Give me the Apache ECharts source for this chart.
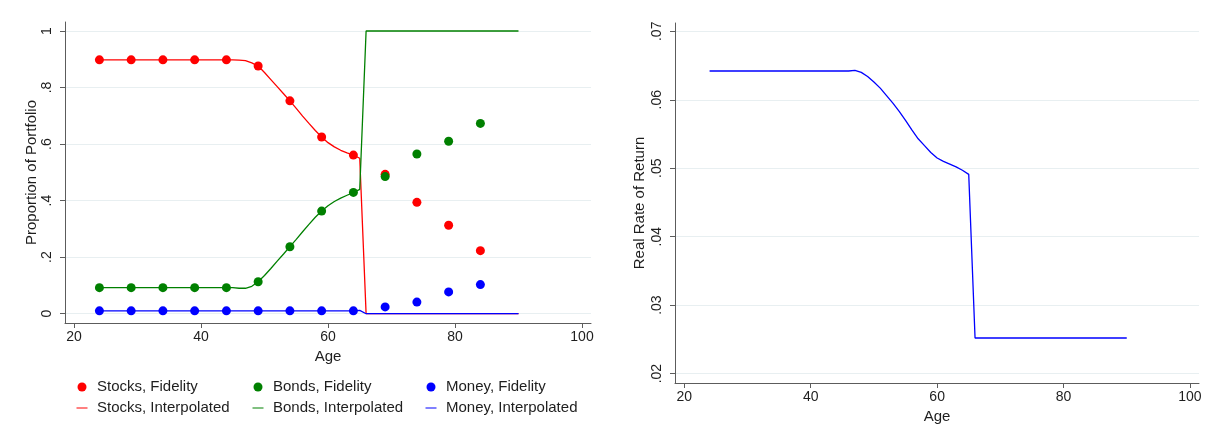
<!DOCTYPE html>
<html><head><meta charset="utf-8">
<script src="https://cdn.jsdelivr.net/npm/echarts@6/dist/echarts.min.js"></script>
<style>html,body{margin:0;padding:0;background:#fff}#c{width:1208px;height:440px}</style>
</head><body><div id="c"></div>
<script>
// ---------- data ----------
const fidelityAges = [24,29,34,39,44,49,54,59,64,69,74,79,84];
const stocksFidelity = [0.898,0.898,0.898,0.898,0.898,0.876,0.753,0.625,0.561,0.493,0.394,0.313,0.223];
const bondsFidelity  = [0.092,0.092,0.092,0.092,0.092,0.113,0.237,0.363,0.429,0.485,0.565,0.610,0.673];
const moneyFidelity  = [0.010,0.010,0.010,0.010,0.010,0.010,0.010,0.010,0.010,0.024,0.041,0.077,0.103];

const interpAges = [24,25,26,27,28,29,30,31,32,33,34,35,36,37,38,39,40,41,42,43,44,45,46,47,48,49,50,
  51,52,53,54,55,56,57,58,59,60,61,62,63,64,65,66,67,68,69,70,71,72,73,74,75,76,77,78,79,80,
  81,82,83,84,85,86,87,88,89,90];
const stocksInterp = [0.898,0.898,0.898,0.898,0.898,0.898,0.898,0.898,0.898,0.898,0.898,0.898,0.898,
  0.898,0.898,0.898,0.898,0.898,0.898,0.898,0.898,0.898,0.897,0.895,0.887,0.876,0.853,0.828,0.803,
  0.778,0.753,0.726,0.699,0.673,0.648,0.625,0.605,0.590,0.578,0.569,0.561,0.550,
  0,0,0,0,0,0,0,0,0,0,0,0,0,0,0,0,0,0,0,0,0,0,0,0,0];
const bondsInterp = [0.092,0.092,0.092,0.092,0.092,0.092,0.092,0.092,0.092,0.092,0.092,0.092,0.092,
  0.092,0.092,0.092,0.092,0.092,0.092,0.092,0.092,0.092,0.090,0.090,0.097,0.113,0.135,0.160,0.186,
  0.211,0.237,0.263,0.290,0.316,0.341,0.363,0.382,0.397,0.409,0.419,0.428,0.440,
  1,1,1,1,1,1,1,1,1,1,1,1,1,1,1,1,1,1,1,1,1,1,1,1,1];
const moneyInterp = [0.010,0.010,0.010,0.010,0.010,0.010,0.010,0.010,0.010,0.010,0.010,0.010,0.010,
  0.010,0.010,0.010,0.010,0.010,0.010,0.010,0.010,0.010,0.010,0.010,0.010,0.010,0.010,0.010,0.010,
  0.010,0.010,0.010,0.010,0.010,0.010,0.010,0.010,0.010,0.010,0.010,0.010,0.012,
  0,0,0,0,0,0,0,0,0,0,0,0,0,0,0,0,0,0,0,0,0,0,0,0,0];
const realReturn = [0.0642,0.0642,0.0642,0.0642,0.0642,0.0642,0.0642,0.0642,0.0642,0.0642,0.0642,
  0.0642,0.0642,0.0642,0.0642,0.0642,0.0642,0.0642,0.0642,0.0642,0.0642,0.0642,0.0642,0.0643,0.0640,
  0.0634,0.0626,0.0617,0.0606,0.0595,0.0583,0.0570,0.0556,0.0543,0.0533,0.0523,0.0515,0.0510,0.0506,
  0.0502,0.0497,0.0491,
  0.0252,0.0252,0.0252,0.0252,0.0252,0.0252,0.0252,0.0252,0.0252,0.0252,0.0252,0.0252,0.0252,
  0.0252,0.0252,0.0252,0.0252,0.0252,0.0252,0.0252,0.0252,0.0252,0.0252,0.0252,0.0252];

const xTicks = [20,40,60,80,100];
const yTicksLeft = [0,0.2,0.4,0.6,0.8,1];
const yTicksRight = [0.02,0.03,0.04,0.05,0.06,0.07];

// ---------- styling ----------
const FONT = '"Liberation Sans", Arial, Helvetica, sans-serif';
const AXIS = '#5c5c5c';
const GRIDC = '#e8eff1';
const TXT = '#1e1e1e';
const RED = '#ff0000', GREEN = '#008000', BLUE = '#0000ff';

const zip = (xs, ys) => xs.map((x, i) => [x, ys[i]]);
const stripZero = v => { const s = String(+v.toFixed(2)); return s.replace(/^0\./, '.'); };

function xAxis(gi, min, max) {
  return {
    type: 'value', gridIndex: gi, min, max,
    name: 'Age', nameLocation: 'middle', nameGap: 23,
    nameTextStyle: { fontSize: 15, color: TXT, fontFamily: FONT },
    axisLine: { show: true, onZero: false, lineStyle: { color: AXIS, width: 1 } },
    axisTick: { show: true, customValues: xTicks, length: 5, lineStyle: { color: AXIS, width: 1 } },
    axisLabel: { customValues: xTicks, fontSize: 14, color: TXT, fontFamily: FONT, margin: 7 },
    splitLine: { show: false }
  };
}
function yAxis(gi, min, max, ticks, name, gap) {
  return {
    type: 'value', gridIndex: gi, min, max,
    name, nameLocation: 'middle', nameGap: gap, nameRotate: 90,
    nameTextStyle: { fontSize: 15, color: TXT, fontFamily: FONT },
    axisLine: { show: true, onZero: false, lineStyle: { color: AXIS, width: 1 } },
    axisTick: { show: true, customValues: ticks, length: 5, lineStyle: { color: AXIS, width: 1 } },
    axisLabel: { customValues: ticks, rotate: 90, fontSize: 14, color: TXT, fontFamily: FONT, margin: 11,
      formatter: v => stripZero(v) },
    splitLine: { show: true, lineStyle: { color: GRIDC, width: 1 } }
  };
}

function scatter(name, ys, color) {
  return { name, type: 'scatter', xAxisIndex: 0, yAxisIndex: 0, data: zip(fidelityAges, ys),
    symbol: 'circle', symbolSize: 9, itemStyle: { color, opacity: 1 }, clip: false };
}
function line(name, ys, color, xi) {
  return { name, type: 'line', xAxisIndex: xi, yAxisIndex: xi, data: zip(interpAges, ys),
    symbol: 'none', showSymbol: false, lineStyle: { color, width: 1.3 }, itemStyle: { color } };
}

function legendItem(name, center, top, isLine) {
  const w = isLine ? 11 : 9;
  return {
    data: [name], left: center - w / 2, top, padding: 0, selectedMode: false,
    icon: isLine ? 'rect' : 'circle', itemWidth: w, itemHeight: isLine ? 1 : 9,
    itemStyle: { opacity: 1 },
    textStyle: { fontSize: 15, color: TXT, fontFamily: FONT, lineHeight: 18,
      padding: [0, 0, 0, isLine ? 4.5 : 5.5] }
  };
}

const chart = echarts.init(document.getElementById('c'), null, { renderer: 'canvas' });
chart.setOption({
  animation: false,
  backgroundColor: '#ffffff',
  grid: [
    { left: 65, top: 22, width: 526, height: 301, outerBoundsMode: 'none' },
    { left: 675, top: 23, width: 524, height: 360, outerBoundsMode: 'none' }
  ],
  xAxis: [ xAxis(0, 18.58, 101.42), xAxis(1, 18.53, 101.43) ],
  yAxis: [
    yAxis(0, -0.0329, 1.0318, yTicksLeft, 'Proportion of Portfolio', 26),
    yAxis(1, 0.018627, 0.071212, yTicksRight, 'Real Rate of Return', 28)
  ],
  legend: [
    legendItem('Stocks, Fidelity', 82, 378, false),
    legendItem('Bonds, Fidelity', 258, 378, false),
    legendItem('Money, Fidelity', 431, 378, false),
    legendItem('Stocks, Interpolated', 82, 399, true),
    legendItem('Bonds, Interpolated', 258, 399, true),
    legendItem('Money, Interpolated', 431, 399, true)
  ],
  series: [
    scatter('Stocks, Fidelity', stocksFidelity, RED),
    scatter('Bonds, Fidelity', bondsFidelity, GREEN),
    scatter('Money, Fidelity', moneyFidelity, BLUE),
    line('Stocks, Interpolated', stocksInterp, RED, 0),
    line('Bonds, Interpolated', bondsInterp, GREEN, 0),
    line('Money, Interpolated', moneyInterp, BLUE, 0),
    line('Real Rate of Return', realReturn, BLUE, 1)
  ]
});
</script></body></html>
